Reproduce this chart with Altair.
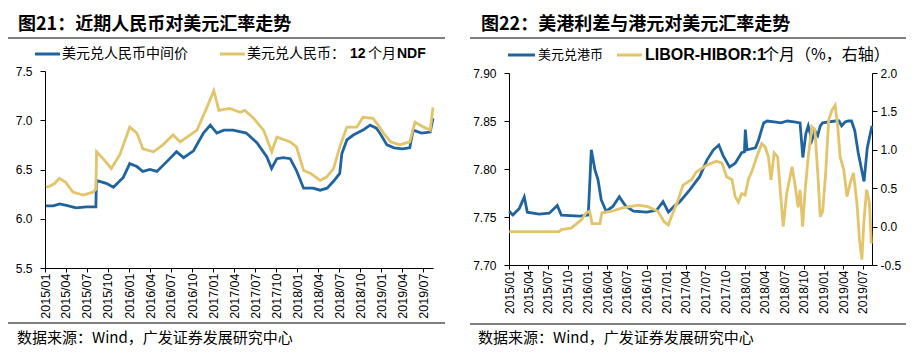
import altair as alt
import pandas as pd

# ---------------- data ----------------
# Left panel: USD/CNY central parity and 12M NDF
cny_mid_dates = ["2015-01-05","2015-02-06","2015-03-05","2015-04-04","2015-05-16","2015-06-29",
    "2015-08-10","2015-08-12","2015-08-26","2015-09-24","2015-10-25","2015-12-07","2016-01-04",
    "2016-02-04","2016-03-01","2016-04-01","2016-05-01","2016-06-13","2016-07-25","2016-08-25",
    "2016-10-07","2016-11-19","2016-12-19","2017-01-16","2017-02-16","2017-03-28","2017-05-24",
    "2017-07-10","2017-08-21","2017-09-11","2017-10-04","2017-11-01","2017-12-01","2017-12-28",
    "2018-01-28","2018-03-10","2018-04-10","2018-05-10","2018-06-07","2018-07-04","2018-07-13",
    "2018-08-04","2018-09-01","2018-10-13","2018-11-13","2018-12-10","2018-12-25","2019-01-25",
    "2019-02-25","2019-04-01","2019-05-04","2019-05-19","2019-06-24","2019-08-01","2019-08-13"]
cny_mid_values = [6.13,6.13,6.15,6.135,6.11,6.12,
    6.12,6.39,6.38,6.36,6.32,6.42,6.56,
    6.53,6.48,6.50,6.48,6.58,6.68,6.62,
    6.69,6.87,6.95,6.87,6.90,6.90,6.87,
    6.77,6.63,6.51,6.61,6.62,6.61,6.49,
    6.31,6.31,6.29,6.31,6.38,6.46,6.66,
    6.80,6.85,6.90,6.95,6.92,6.87,6.75,
    6.72,6.71,6.72,6.90,6.87,6.88,7.02]

cny_ndf_dates = ["2015-01-05","2015-01-22","2015-02-13","2015-03-04","2015-04-01","2015-05-02",
    "2015-06-16","2015-07-28","2015-08-10","2015-08-13","2015-09-10","2015-10-16","2015-11-22",
    "2016-01-04","2016-02-04","2016-03-01","2016-04-16","2016-05-27","2016-07-10","2016-08-10",
    "2016-09-21","2016-10-22","2016-12-04","2017-01-03","2017-01-25","2017-03-13","2017-04-27",
    "2017-05-18","2017-06-25","2017-08-07","2017-09-12","2017-10-04","2017-12-01","2017-12-28",
    "2018-01-28","2018-02-28","2018-04-10","2018-05-07","2018-06-07","2018-07-04","2018-08-04",
    "2018-09-16","2018-10-13","2018-11-25","2018-12-18","2019-01-10","2019-02-10","2019-03-21",
    "2019-05-04","2019-05-27","2019-07-04","2019-08-01","2019-08-13"]
cny_ndf_values = [6.32,6.33,6.36,6.41,6.37,6.27,
    6.24,6.27,6.30,6.68,6.61,6.51,6.65,
    6.93,6.87,6.71,6.68,6.75,6.85,6.78,
    6.85,6.90,7.13,7.30,7.10,7.12,7.08,
    7.10,7.02,6.90,6.68,6.83,6.78,6.73,
    6.49,6.46,6.39,6.42,6.51,6.73,6.93,
    6.93,7.03,7.02,6.95,6.87,6.78,6.75,
    6.78,6.98,6.93,6.90,7.13]

# Right panel: USD/HKD (left axis) and LIBOR-HIBOR 1M spread (right axis, %)
hkd_dates = ["2015-01-02","2015-01-19","2015-02-18","2015-03-13","2015-03-27","2015-05-21",
    "2015-07-07","2015-08-13","2015-09-01","2015-11-24","2016-01-04","2016-01-18","2016-02-04",
    "2016-02-18","2016-03-04","2016-03-27","2016-04-27","2016-05-27","2016-06-27","2016-08-01",
    "2016-10-01","2016-11-16","2016-12-16","2017-01-10","2017-02-04","2017-03-04","2017-04-18",
    "2017-06-04","2017-07-07","2017-08-07","2017-09-01","2017-09-21","2017-10-21","2017-11-16",
    "2017-12-16","2017-12-29","2018-01-02","2018-01-10","2018-02-18","2018-03-04","2018-03-28",
    "2018-04-13","2018-05-16","2018-06-16","2018-07-16","2018-08-16","2018-09-13","2018-09-26",
    "2018-10-10","2018-10-21","2018-11-07","2018-11-21","2018-12-04","2018-12-16","2018-12-27",
    "2019-01-24","2019-02-24","2019-03-13","2019-03-25","2019-04-10","2019-04-25","2019-05-10",
    "2019-05-25","2019-06-10","2019-07-07","2019-07-22","2019-08-13"]
hkd_values = [7.756,7.752,7.759,7.771,7.755,7.753,
    7.754,7.762,7.752,7.751,7.752,7.820,7.799,
    7.789,7.768,7.756,7.761,7.771,7.761,7.756,
    7.755,7.757,7.766,7.755,7.761,7.766,7.778,
    7.792,7.809,7.820,7.825,7.814,7.802,7.806,
    7.817,7.818,7.841,7.820,7.822,7.830,7.848,
    7.850,7.849,7.848,7.850,7.849,7.848,7.812,
    7.837,7.845,7.830,7.840,7.835,7.845,7.848,
    7.849,7.850,7.850,7.845,7.849,7.850,7.850,
    7.840,7.817,7.787,7.822,7.845]

spread_dates = ["2015-01-02","2015-08-22","2015-09-01","2015-10-16","2015-12-04","2015-12-25",
    "2016-01-10","2016-01-22","2016-02-27","2016-03-07","2016-04-22","2016-06-07","2016-08-22",
    "2016-10-07","2016-11-22","2016-12-22","2017-01-10","2017-01-24","2017-02-24","2017-03-19",
    "2017-04-27","2017-05-19","2017-07-07","2017-08-21","2017-09-15","2017-10-07","2017-11-01",
    "2017-11-16","2017-12-01","2017-12-16","2018-01-01","2018-01-16","2018-02-04","2018-02-24",
    "2018-03-19","2018-04-04","2018-04-19","2018-05-01","2018-05-16","2018-06-01","2018-06-13",
    "2018-06-27","2018-07-13","2018-08-07","2018-08-22","2018-09-04","2018-09-13","2018-09-25",
    "2018-10-07","2018-10-21","2018-11-07","2018-11-21","2018-12-04","2018-12-16","2018-12-27",
    "2019-01-10","2019-01-24","2019-02-09","2019-02-23","2019-03-07","2019-03-18","2019-04-04",
    "2019-04-19","2019-05-04","2019-05-19","2019-06-04","2019-06-16","2019-06-27","2019-07-07",
    "2019-07-19","2019-08-01","2019-08-10"]
spread_values = [-0.065,-0.065,-0.04,-0.02,0.09,0.18,
    0.20,0.04,0.04,0.18,0.20,0.24,0.28,
    0.26,0.20,0.06,0.02,0.13,0.35,0.54,
    0.61,0.71,0.80,0.85,0.83,0.65,0.61,
    0.39,0.32,0.43,0.41,0.61,0.74,0.91,
    1.08,1.04,0.91,0.61,0.96,0.91,0.48,
    0.00,0.43,0.78,0.52,0.25,0.48,0.00,
    0.48,0.91,1.30,1.26,0.70,0.13,0.20,
    0.70,1.39,1.52,1.58,1.30,0.91,0.74,
    0.39,0.57,0.70,0.31,-0.17,-0.43,0.09,
    0.48,0.31,-0.22]

cny_ticks = [5.5, 6.0, 6.5, 7.0, 7.5]
hkd_ticks = [7.70, 7.75, 7.80, 7.85, 7.90]
spread_ticks = [-0.5, 0.0, 0.5, 1.0, 1.5, 2.0]
quarters = [(y, m) for y in range(2015, 2020) for m in (1, 4, 7, 10) if (y, m) <= (2019, 7)]

# ---------------- styling ----------------
W, H = 920, 353
BLUE = "#1F64A0"
GOLD = "#E3C46B"
CJK = "Noto Sans CJK SC"
NUM = "Liberation Sans"


def dt(y, m, d=1):
    return alt.DateTime(year=y, month=m, date=d, utc=True)


def x_axis(offset, size):
    return alt.Axis(orient="bottom", offset=offset, values=[dt(y, m) for y, m in quarters],
                    format="%Y/%m", labelAngle=270, labelFontSize=size, labelPadding=1,
                    tickSize=4, labelFlush=False, labelOverlap=False, labelBound=False,
                    grid=False, title=None)


def y_axis(orient, offset, values, fmt, pad):
    return alt.Axis(orient=orient, offset=offset, values=values, format=fmt,
                    labelExpr="replace(format(datum.value, '" + fmt + "'), '\u2212', '-')",
                    labelFontSize=12, labelPadding=pad, tickSize=5, labelFlush=False,
                    labelOverlap=False, grid=False, title=None)


xL = alt.Scale(type="utc", domain=[dt(2015, 1, 1), dt(2019, 8, 13)], range=[45, 433], nice=False)
xR = alt.Scale(type="utc", domain=[dt(2015, 1, 1), dt(2019, 8, 13)], range=[509, 872], nice=False)
yL = alt.Scale(domain=[5.5, 7.5], range=[268, 71], nice=False, zero=False)
yR1 = alt.Scale(domain=[7.70, 7.90], range=[265, 73], nice=False, zero=False)
yR2 = alt.Scale(domain=[-0.5, 2.0], range=[265, 73], nice=False, zero=False)


def line(dates, values, color, xs, ys, xax, yax):
    df = pd.DataFrame({"date": dates, "value": values})
    return alt.Chart(df).mark_line(color=color, strokeWidth=2.8).encode(
        x=alt.X("date:T", scale=xs, axis=xax),
        y=alt.Y("value:Q", scale=ys, axis=yax),
    )


def txt(s, x, y, size, weight="normal", font=CJK):
    return alt.Chart(alt.Data(values=[{}])).mark_text(
        align="left", baseline="middle", font=font, fontSize=size, fontWeight=weight,
        color="#000000").encode(x=alt.value(x), y=alt.value(y), text=alt.value(s))


def hline(x1, x2, y, color="#000000", width=1.0):
    return alt.Chart(alt.Data(values=[{}])).mark_rule(color=color, strokeWidth=width).encode(
        x=alt.value(x1), x2=alt.value(x2), y=alt.value(y))


layers = [
    # left panel lines
    line(cny_mid_dates, cny_mid_values, BLUE, xL, yL,
         x_axis(268 - H, 12.5), y_axis("left", -45, cny_ticks, ".1f", 8)),
    line(cny_ndf_dates, cny_ndf_values, GOLD, xL, yL, None, None),
    # right panel lines
    line(hkd_dates, hkd_values, BLUE, xR, yR1,
         x_axis(265 - H, 12), y_axis("left", -509, hkd_ticks, ".2f", 8)),
    line(spread_dates, spread_values, GOLD, xR, yR2,
         None, y_axis("right", 872 - W, spread_ticks, ".1f", 3)),
    # titles and separators
    txt("图21：近期人民币对美元汇率走势", 18, 25, 18, "bold"),
    txt("图22：美港利差与港元对美元汇率走势", 481, 25, 18, "bold"),
    hline(8, 445, 38), hline(470, 906, 38),
    hline(8, 445, 323), hline(470, 906, 324),
    # left legend
    hline(35, 60, 54, BLUE, 3), txt("美元兑人民币中间价", 62, 54, 14),
    hline(220, 245, 54, GOLD, 3), txt("美元兑人民币：", 247, 54, 14),
    txt("12", 350, 54, 14, "bold", NUM), txt("个月", 368, 54, 14),
    txt("NDF", 397, 54, 14, "bold", NUM),
    # right legend
    hline(508, 535, 55, BLUE, 3), txt("美元兑港币", 538, 55, 13),
    hline(617, 642, 55, GOLD, 3), txt("LIBOR-HIBOR:1", 645, 55, 16, "bold", NUM),
    txt("个月（%，右轴）", 763, 55, 16),
    # sources
    txt("数据来源：Wind，广发证券发展研究中心", 17, 338, 15),
    txt("数据来源：Wind，广发证券发展研究中心", 478, 338, 15),
]

chart = alt.layer(*layers).resolve_scale(
    x="independent", y="independent"
).properties(
    width=W, height=H, autosize=alt.AutoSizeParams(type="none"), padding=0,
    background="white",
).configure_view(stroke=None).configure_axis(
    domainColor="#000000", tickColor="#000000", labelColor="#000000", labelFont=NUM,
    domainWidth=1, tickWidth=1,
)

chart.save("out.html", embed_options={"renderer": "svg", "actions": False})
